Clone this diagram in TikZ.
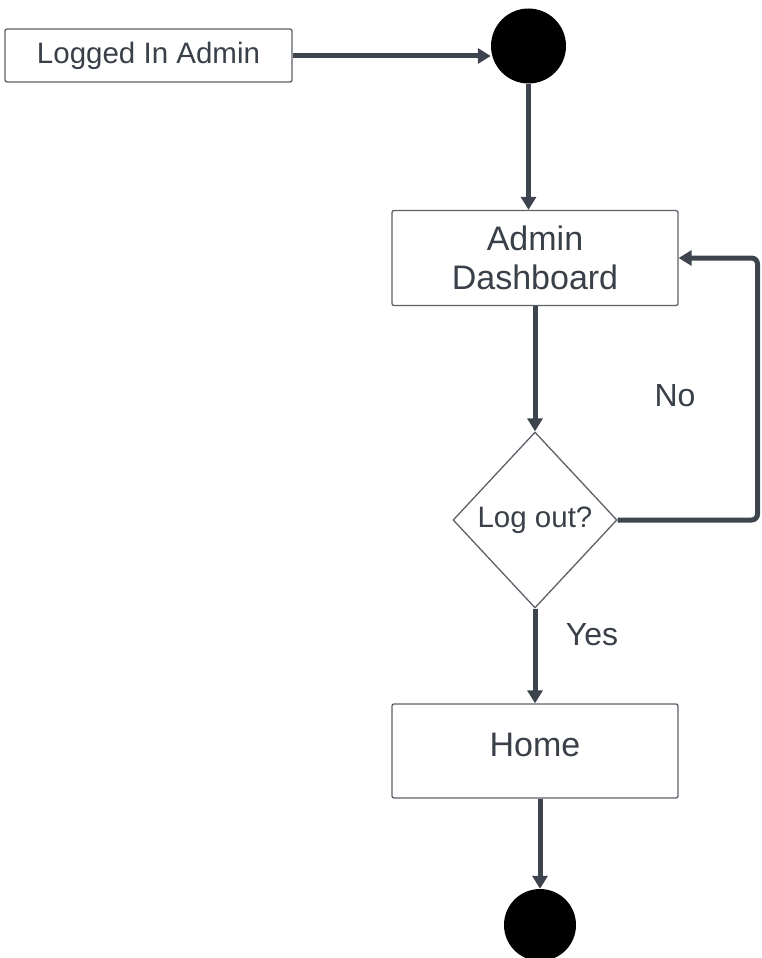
\documentclass[tikz,border=0pt]{standalone}
\usepackage{fontspec}
\setmainfont{Liberation Sans}
\usetikzlibrary{shapes.geometric,arrows.meta}
\definecolor{linec}{HTML}{3E444E}
\definecolor{txtc}{HTML}{3A4049}
\definecolor{boxc}{HTML}{5C6168}
\tikzset{
  actbox/.style={draw=boxc, line width=1.3pt, rounded corners=2pt, fill=white, text=txtc, inner sep=0pt, align=center},
  flow/.style={draw=linec, line width=5pt, -{Triangle[length=13pt,width=15pt]}},
  lbl/.style={text=txtc, inner sep=0pt, font=\fontsize{32}{38}\selectfont},
  dot/.style={circle, fill=black, inner sep=0pt}
}
\begin{document}
\begin{tikzpicture}[x=1pt,y=-1pt]
\useasboundingbox (0,0) rectangle (762,958);
\node[actbox, minimum width=287pt, minimum height=53pt, font=\fontsize{29.5}{34}\selectfont] (login) at (148.5,55.5) {Logged In Admin};
\node[dot, minimum size=75pt] (start) at (528.5,46) {};
\node[actbox, minimum width=286pt, minimum height=95pt, font=\fontsize{34}{39}\selectfont] (dash) at (535,258) {Admin\\Dashboard};
\node[diamond, draw=boxc, line width=1.3pt, fill=white, text=txtc, inner sep=0pt, minimum width=164pt, minimum height=176pt, font=\fontsize{29.5}{34}\selectfont] (dec) at (535,520) {Log out?};
\node[actbox, minimum width=286pt, minimum height=94pt, text depth=12pt, font=\fontsize{34}{39}\selectfont] (home) at (535,751) {Home};
\node[dot, minimum size=72pt] (endc) at (540,925) {};
\coordinate (loopx) at (757.5,0);
\node[lbl] (no) at (675,396) {No};
\node[lbl] (yes) at (592,635) {Yes};
\draw[flow] (login.east |- 0,56) -- (start.west |- 0,56);
\draw[flow] (start) -- (start |- dash.north);
\draw[flow] (dash.south) -- (dec.north);
\draw[flow, rounded corners=6pt] (dec.east) -- (dec.east -| loopx) -- (dash.east -| loopx) -- (dash.east);
\draw[flow] (dec.south) -- (home.north);
\draw[flow] (home.south -| endc) -- (endc);
\end{tikzpicture}
\end{document}
